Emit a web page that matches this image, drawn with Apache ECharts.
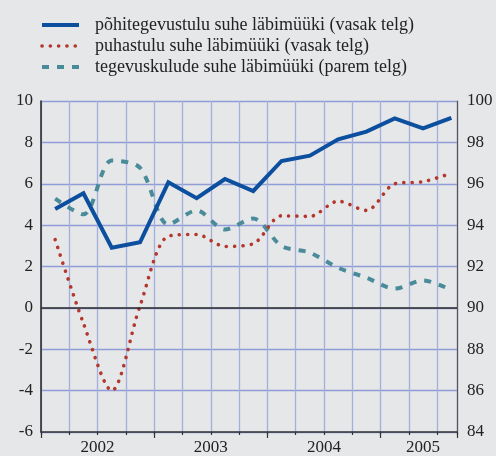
<!DOCTYPE html>
<html>
<head>
<meta charset="utf-8">
<script src="https://cdn.jsdelivr.net/npm/echarts@6/dist/echarts.min.js"></script>
<style>
  html, body { margin: 0; padding: 0; background: #e6e7e9; }
  #chart { width: 496px; height: 456px; }
</style>
</head>
<body>
<div id="chart"></div>
<script>
// quarters 2002 I .. 2005 III
var quarters = ['2002 I', '2002 II', '2002 III', '2002 IV',
                '2003 I', '2003 II', '2003 III', '2003 IV',
                '2004 I', '2004 II', '2004 III', '2004 IV',
                '2005 I', '2005 II', '2005 III'];
var years = ['2002', '2003', '2004', '2005'];
var seriesNames = ['põhitegevustulu suhe läbimüüki (vasak telg)',
                   'puhastulu suhe läbimüüki (vasak telg)',
                   'tegevuskulude suhe läbimüüki (parem telg)'];
var pohitulu = [4.78, 5.54, 2.91, 3.17, 6.07, 5.30, 6.23, 5.65, 7.10, 7.36, 8.15, 8.52, 9.16, 8.68, 9.19];
var puhastulu = [3.30, -0.75, -4.00, 0.10, 3.47, 3.55, 2.97, 3.10, 4.45, 4.42, 5.16, 4.71, 6.00, 6.10, 6.51];
var kulud = [95.28, 94.52, 97.12, 96.77, 94.03, 94.71, 93.79, 94.32, 92.99, 92.67, 91.94, 91.46, 90.93, 91.33, 90.86];
var leftTicks = [-6, 10, 2];   // min, max, step
var rightTicks = [84, 100, 2];

// middle of each year's quarters, used to place the year labels
var yearCenter = {};
years.forEach(function (y) {
    var idx = [];
    quarters.forEach(function (q, i) { if (q.indexOf(y) === 0) idx.push(i); });
    yearCenter[y] = (idx[0] + idx[idx.length - 1]) / 2;
});

function pairs(arr) {
    return arr.map(function (v, i) { return [i, v]; });
}

var font = 'Liberation Serif';
var dom = document.getElementById('chart');
var myChart = echarts.init(dom);

var option = {
    backgroundColor: '#e6e7e9',
    animation: false,
    textStyle: { fontFamily: font },
    legend: {
        orient: 'vertical',
        left: 40,
        top: 16,
        padding: 0,
        itemWidth: 37,
        itemHeight: 14,
        itemGap: 3,
        itemStyle: { opacity: 0 },
        lineStyle: { width: 'inherit' },
        textStyle: { fontFamily: font, fontSize: 18, color: '#222', lineHeight: 18, padding: [0, 0, 0, 11] },
        data: seriesNames
    },
    grid: { left: 41, right: 39, top: 101, bottom: 23 },
    xAxis: [{
        type: 'value', position: 'bottom',
        min: -0.5, max: 14.2, interval: 1,
        axisLine: { onZero: false, lineStyle: { color: '#333', width: 1.5 } },
        axisTick: { show: true, length: 3, lineStyle: { color: '#333', width: 1.2 } },
        axisLabel: { show: false },
        splitLine: { show: true, lineStyle: { color: '#a3afdc', width: 1.3 } }
    }, {
        type: 'value', position: 'bottom',
        min: -0.5, max: 14.2, interval: 0.5,
        axisLine: { show: false, onZero: false }, axisTick: { show: false }, splitLine: { show: false },
        axisLabel: {
            show: true, margin: 7, fontFamily: font, fontSize: 17, color: '#222',
            formatter: function (v) {
                for (var i = 0; i < years.length; i++) {
                    if (Math.abs(yearCenter[years[i]] - v) < 1e-6) return years[i];
                }
                return '';
            }
        }
    }, {
        type: 'value', position: 'bottom',
        min: -0.5, max: 14.2, interval: 4,
        axisLine: { show: false, onZero: false },
        axisTick: { show: true, length: 6, lineStyle: { color: '#333', width: 1.2 } },
        axisLabel: { show: false }, splitLine: { show: false }
    }],
    yAxis: [{
        type: 'value', position: 'left',
        min: leftTicks[0], max: leftTicks[1], interval: leftTicks[2],
        axisLine: { show: true, onZero: false, lineStyle: { color: '#222', width: 1.5 } },
        axisTick: { show: false },
        axisLabel: { margin: 8, fontFamily: font, fontSize: 17, color: '#222' },
        splitLine: { show: true, lineStyle: { color: '#8e9dd6', width: 1.3 } }
    }, {
        type: 'value', position: 'right',
        min: rightTicks[0], max: rightTicks[1], interval: rightTicks[2],
        axisLine: { show: true, onZero: false, lineStyle: { color: '#555', width: 1.2 } },
        axisTick: { show: false },
        axisLabel: { margin: 10, fontFamily: font, fontSize: 17, color: '#222' },
        splitLine: { show: false }
    }],
    series: [{
        name: seriesNames[0], type: 'line',
        xAxisIndex: 0, yAxisIndex: 0,
        data: pairs(pohitulu),
        symbol: 'none', z: 5,
        lineStyle: { color: '#0b4f9e', width: 4, join: 'miter' },
        itemStyle: { color: '#0b4f9e' },
        markLine: {
            silent: true, symbol: 'none', label: { show: false },
            lineStyle: { color: '#2a2a2a', width: 1.5, type: 'solid' },
            data: [{ yAxis: 0 }]
        }
    }, {
        name: seriesNames[1], type: 'line',
        xAxisIndex: 0, yAxisIndex: 0,
        data: pairs(puhastulu),
        symbol: 'none', smooth: 0.3, z: 4,
        lineStyle: { color: '#b3372d', width: 3.6, type: [0.1, 8.2], cap: 'round' },
        itemStyle: { color: '#b3372d' }
    }, {
        name: seriesNames[2], type: 'line',
        xAxisIndex: 0, yAxisIndex: 1,
        data: pairs(kulud),
        symbol: 'none', smooth: 0.3, z: 3,
        lineStyle: { color: '#4a8b99', width: 4, type: [7, 8] },
        itemStyle: { color: '#4a8b99' }
    }]
};

myChart.setOption(option);
</script>
</body>
</html>
